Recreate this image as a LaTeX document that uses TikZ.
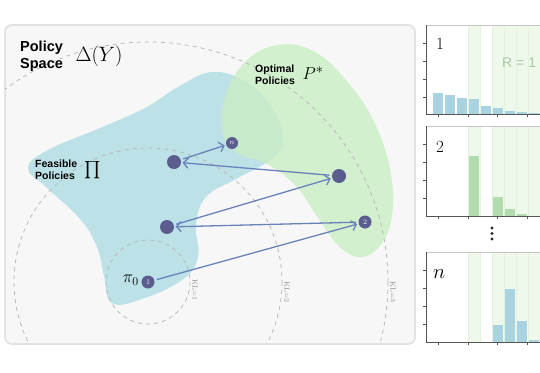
\documentclass[tikz,border=0pt]{standalone}
\usepackage{amsmath}
\usepackage{fontspec}
\setsansfont{Liberation Sans}
\usetikzlibrary{arrows.meta}
\definecolor{panelbg}{HTML}{F7F7F7}
\definecolor{panelline}{HTML}{E2E2E2}
\definecolor{feas}{HTML}{BCE2E8}
\definecolor{opt}{HTML}{C9EDC4}
\definecolor{dotc}{HTML}{5B5D8E}
\definecolor{arrc}{HTML}{6A82BA}
\definecolor{circc}{HTML}{B4B4B4}
\definecolor{barblue}{HTML}{A9D3E1}
\definecolor{bargreen}{HTML}{B2DCAD}
\definecolor{bandc}{HTML}{EFF9EB}
\definecolor{bandl}{HTML}{E2F2DD}
\definecolor{rtext}{HTML}{A3CC9F}
\definecolor{axisc}{HTML}{555555}
\begin{document}
\begin{tikzpicture}[x=1pt,y=-1pt,
  dot/.style={circle,fill=dotc,inner sep=0pt,minimum size=#1,text=white,font=\fontsize{7}{7}\selectfont},
  arr/.style={draw=arrc,line width=1.3pt,-{Straight Barb[length=4.5pt,width=10pt]},shorten >=1.5pt,shorten <=2.5pt},
  kl/.style={dash pattern=on 4pt off 4pt,draw=circc,line width=0.7pt},
  kllab/.style={text=circc!75!black,font=\fontsize{7}{7}\selectfont,rotate=-90,inner sep=0pt},
  lab/.style={font=\sffamily\bfseries\fontsize{10.5}{12}\selectfont,anchor=base west,inner sep=0pt},
  band/.style={fill=bandc,draw=bandl,line width=0.4pt},
  axisl/.style={draw=axisc,line width=0.8pt},
  tick/.style={draw=axisc,line width=0.6pt}]
\useasboundingbox (0,0) rectangle (540,372);
\clip (0,0) rectangle (540,372);
% left panel
\draw[draw=panelline,fill=panelbg,line width=1.8pt,rounded corners=7pt] (5,25) rectangle (415,344);
\begin{scope}
\clip[rounded corners=7pt] (5,25) rectangle (415,344);
\fill[feas] plot[smooth cycle,tension=0.7] coordinates {(28,168) (48,150) (100,128) (145,108) (178,87) (212,72) (246,82) (272,108) (283,140) (270,160) (236,179) (206,197) (196,225) (198,257) (182,280) (142,299) (112,303) (104,276) (97,247) (80,219) (46,187)};
\fill[opt,opacity=0.8] plot[smooth cycle,tension=0.7] coordinates {(222,128) (226,95) (245,62) (278,45) (315,52) (350,85) (377,128) (391,175) (392,215) (382,243) (362,257) (340,247) (318,218) (295,185) (265,163) (235,152)};
\draw[kl] (148,282) circle[radius=42];
\draw[kl] (148,282) circle[radius=134];
\draw[kl] (148,282) circle[radius=240];
\end{scope}
\node[kllab] (kl1) at (195,290) {KL=1};
\node[kllab] (kl2) at (287,292) {KL=2};
\node[kllab] (kl3) at (393,292) {KL=3};
% labels
\node[lab,font=\sffamily\bfseries\fontsize{14.5}{17}\selectfont] (ps1) at (20,51) {Policy};
\node[lab,font=\sffamily\bfseries\fontsize{14.5}{17}\selectfont] (ps2) at (20,68) {Space};
\node[inner sep=0pt,font=\fontsize{20}{20}\selectfont] (dy) at (99,56) {$\Delta(Y)$};
\node[lab] (op1) at (255,72) {Optimal};
\node[lab] (op2) at (255,84) {Policies};
\node[inner sep=0pt,font=\fontsize{19}{19}\selectfont] (ps) at (313,73) {$P^*$};
\node[lab] (fe1) at (35,167) {Feasible};
\node[lab] (fe2) at (35,179) {Policies};
\node[inner sep=0pt,font=\fontsize{19}{19}\selectfont] (pi) at (93,170) {$\prod$};
% dots
\node[dot=12pt] (n) at (232,143) {$n$};
\node[dot=14pt] (a) at (174,162) {};
\node[dot=14pt] (b) at (339,176) {};
\node[dot=14pt] (c) at (167,227) {};
\node[dot=13pt] (d) at (365,222) {2};
\node[dot=13pt] (p) at (148,282) {1};
\node[inner sep=0pt,anchor=east,font=\fontsize{18}{18}\selectfont] (pl) at (139,280) {$\pi_0$};
\draw[arr] (p) -- (d);
\draw[arr] (d) -- (c);
\draw[arr] (c) -- (b);
\draw[arr] (b) -- (a);
\draw[arr] (a) -- (n);
% right plots
\foreach \t/\bt in {25/114,126/216,252/342}{
  \draw[band] (468,\t) rectangle (480,\bt);
  \foreach \xa in {492,504,516,528} \draw[band] (\xa,\t) rectangle (\xa+12,\bt);
  \draw[draw=gray!45,line width=0.8pt] (426,\t) -- (545,\t);
  \draw[axisl] (426,\t) -- (426,\bt) -- (545,\bt);
  \foreach \k in {1,2,3,4} \draw[tick] (423,\t+18*\k) -- (426,\t+18*\k);
  \foreach \xt in {438,468,497,527} \draw[tick] (\xt,\bt) -- (\xt,\bt+3);
}
\foreach \i/\h in {1/21,2/19,3/16,4/15,5/8,6/6,7/3,8/2,9/1}
  \fill[barblue] ({438+12*(\i-1)-5},114) rectangle ++(10,-\h);
\foreach \i/\h in {4/60,6/19,7/7,8/2}
  \fill[bargreen] ({438+12*(\i-1)-5},216) rectangle ++(10,-\h);
\foreach \i/\h in {6/17,7/53,8/21,9/2}
  \fill[barblue] ({438+12*(\i-1)-5},342) rectangle ++(10,-\h);
\node[anchor=base west,inner sep=0pt,font=\fontsize{17}{17}\selectfont] (t1) at (436,49) {1};
\node[anchor=base west,inner sep=0pt,font=\fontsize{17}{17}\selectfont] (t2) at (436,152) {2};
\node[anchor=base west,inner sep=0pt,font=\fontsize{22}{22}\selectfont] (t3) at (433,278) {$n$};
\node[anchor=base west,inner sep=0pt,text=rtext,font=\sffamily\fontsize{14}{14}\selectfont] (r1) at (502,67) {R = 1};
\fill[black!85] (492,228) circle[radius=1.7];
\fill[black!85] (492,233.5) circle[radius=1.7];
\fill[black!85] (492,239) circle[radius=1.7];
\end{tikzpicture}
\end{document}
